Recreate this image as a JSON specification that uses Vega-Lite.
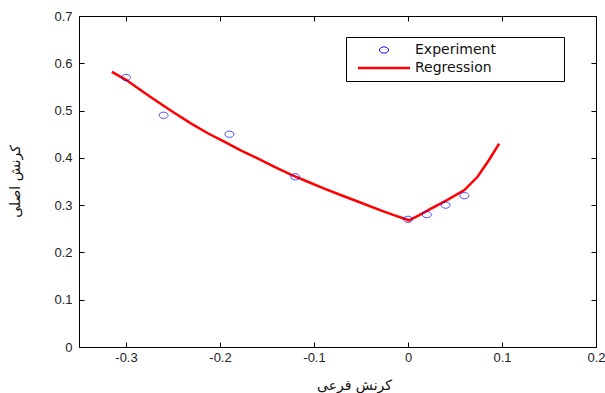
{
  "$schema": "https://vega.github.io/schema/vega-lite/v6.json",
  "width": 517,
  "height": 331,
  "autosize": {"type": "none"},
  "padding": {"left": 79, "top": 16, "right": 9, "bottom": 46},
  "background": "white",
  "config": {
    "view": {"stroke": "black", "strokeWidth": 1},
    "font": "Liberation Sans",
    "axis": {
      "grid": false,
      "domain": false,
      "tickColor": "black",
      "tickSize": -5,
      "labelFont": "Liberation Sans",
      "labelFontSize": 13,
      "labelColor": "#222",
      "titleFont": "DejaVu Sans",
      "titleFontSize": 14,
      "titleFontWeight": "normal",
      "titleColor": "#111"
    },
    "legend": {
      "orient": "none",
      "legendX": 267,
      "legendY": 21,
      "strokeColor": "black",
      "fillColor": "white",
      "padding": 6,
      "symbolSize": 81,
      "symbolOffset": 25,
      "labelOffset": 24,
      "rowPadding": 4,
      "labelFont": "DejaVu Sans",
      "labelFontSize": 14,
      "labelColor": "#111",
      "labelLimit": 400
    }
  },
  "data": {
    "values": [
      {"x": -0.315, "y": 0.582, "series": "Regression"},
      {"x": -0.3, "y": 0.565, "series": "Regression"},
      {"x": -0.28, "y": 0.537, "series": "Regression"},
      {"x": -0.266, "y": 0.518, "series": "Regression"},
      {"x": -0.25, "y": 0.497, "series": "Regression"},
      {"x": -0.231, "y": 0.473, "series": "Regression"},
      {"x": -0.213, "y": 0.452, "series": "Regression"},
      {"x": -0.195, "y": 0.434, "series": "Regression"},
      {"x": -0.178, "y": 0.416, "series": "Regression"},
      {"x": -0.16, "y": 0.399, "series": "Regression"},
      {"x": -0.142, "y": 0.381, "series": "Regression"},
      {"x": -0.124, "y": 0.364, "series": "Regression"},
      {"x": -0.106, "y": 0.349, "series": "Regression"},
      {"x": -0.089, "y": 0.335, "series": "Regression"},
      {"x": -0.071, "y": 0.321, "series": "Regression"},
      {"x": -0.05, "y": 0.305, "series": "Regression"},
      {"x": -0.029, "y": 0.289, "series": "Regression"},
      {"x": -0.015, "y": 0.279, "series": "Regression"},
      {"x": 0.001, "y": 0.268, "series": "Regression"},
      {"x": 0.012, "y": 0.279, "series": "Regression"},
      {"x": 0.024, "y": 0.292, "series": "Regression"},
      {"x": 0.042, "y": 0.311, "series": "Regression"},
      {"x": 0.06, "y": 0.332, "series": "Regression"},
      {"x": 0.074, "y": 0.36, "series": "Regression"},
      {"x": 0.086, "y": 0.395, "series": "Regression"},
      {"x": 0.097, "y": 0.43, "series": "Regression"},
      {"x": -0.3, "y": 0.57, "series": "Experiment"},
      {"x": -0.26, "y": 0.49, "series": "Experiment"},
      {"x": -0.19, "y": 0.45, "series": "Experiment"},
      {"x": -0.12, "y": 0.36, "series": "Experiment"},
      {"x": 0.0, "y": 0.27, "series": "Experiment"},
      {"x": 0.02, "y": 0.28, "series": "Experiment"},
      {"x": 0.04, "y": 0.30, "series": "Experiment"},
      {"x": 0.06, "y": 0.32, "series": "Experiment"}
    ]
  },
  "resolve": {"axis": {"x": "independent", "y": "independent"}},
  "layer": [
    {
      "transform": [{"filter": "datum.series === 'Regression'"}],
      "mark": {"type": "line", "strokeWidth": 2.5},
      "encoding": {
        "x": {
          "field": "x", "type": "quantitative",
          "scale": {"domain": [-0.35, 0.2], "nice": false, "zero": false},
          "axis": {
            "orient": "bottom",
            "values": [-0.3, -0.2, -0.1, 0, 0.1, 0.2],
            "labelExpr": "datum.value === 0 ? '0' : replace(format(datum.value, '.1f'), '\u2212', '-')",
            "labelPadding": 9,
            "labelFlush": false,
            "title": "کرنش فرعی",
            "titleBaseline": "middle",
            "titleX": 275,
            "titleY": 38
          }
        },
        "y": {
          "field": "y", "type": "quantitative",
          "scale": {"domain": [0, 0.7], "nice": false},
          "axis": {
            "orient": "left",
            "values": [0, 0.1, 0.2, 0.3, 0.4, 0.5, 0.6, 0.7],
            "labelExpr": "datum.value === 0 ? '0' : format(datum.value, '.1f')",
            "labelPadding": 12,
            "labelFlush": false,
            "title": "کرنش اصلی",
            "titleBaseline": "middle",
            "titleAngle": -90,
            "titleX": -64,
            "titleY": 165
          }
        },
        "color": {
          "field": "series", "type": "nominal",
          "scale": {"domain": ["Experiment", "Regression"], "range": ["#0000ff", "#ff0000"]},
          "legend": {
            "title": null,
            "encode": {
              "symbols": {"update": {"strokeWidth": {"signal": "datum.value === 'Regression' ? 2.5 : 1"}}},
              "labels": {"update": {"text": {"signal": "datum.label + '\u2800\u2800\u2800\u2800\u2800\u2800'"}}}
            }
          }
        }
      }
    },
    {
      "transform": [{"filter": "datum.series === 'Experiment'"}],
      "mark": {"type": "point", "filled": false, "size": 81, "strokeWidth": 1},
      "encoding": {
        "x": {
          "field": "x", "type": "quantitative",
          "scale": {"domain": [-0.35, 0.2], "nice": false, "zero": false},
          "axis": {"orient": "top", "values": [-0.3, -0.2, -0.1, 0, 0.1, 0.2], "labels": false, "title": null}
        },
        "y": {
          "field": "y", "type": "quantitative",
          "scale": {"domain": [0, 0.7], "nice": false},
          "axis": {"orient": "right", "values": [0, 0.1, 0.2, 0.3, 0.4, 0.5, 0.6, 0.7], "labels": false, "title": null}
        },
        "color": {
          "field": "series", "type": "nominal",
          "scale": {"domain": ["Experiment", "Regression"], "range": ["#0000ff", "#ff0000"]},
          "legend": {"title": null}
        },
        "shape": {
          "field": "series", "type": "nominal",
          "scale": {"domain": ["Experiment", "Regression"], "range": ["M-1,0A1,0.7,0,1,0,1,0A1,0.7,0,1,0,-1,0Z", "M-5.8,0L5.8,0"]},
          "legend": {"title": null}
        }
      }
    }
  ]
}
